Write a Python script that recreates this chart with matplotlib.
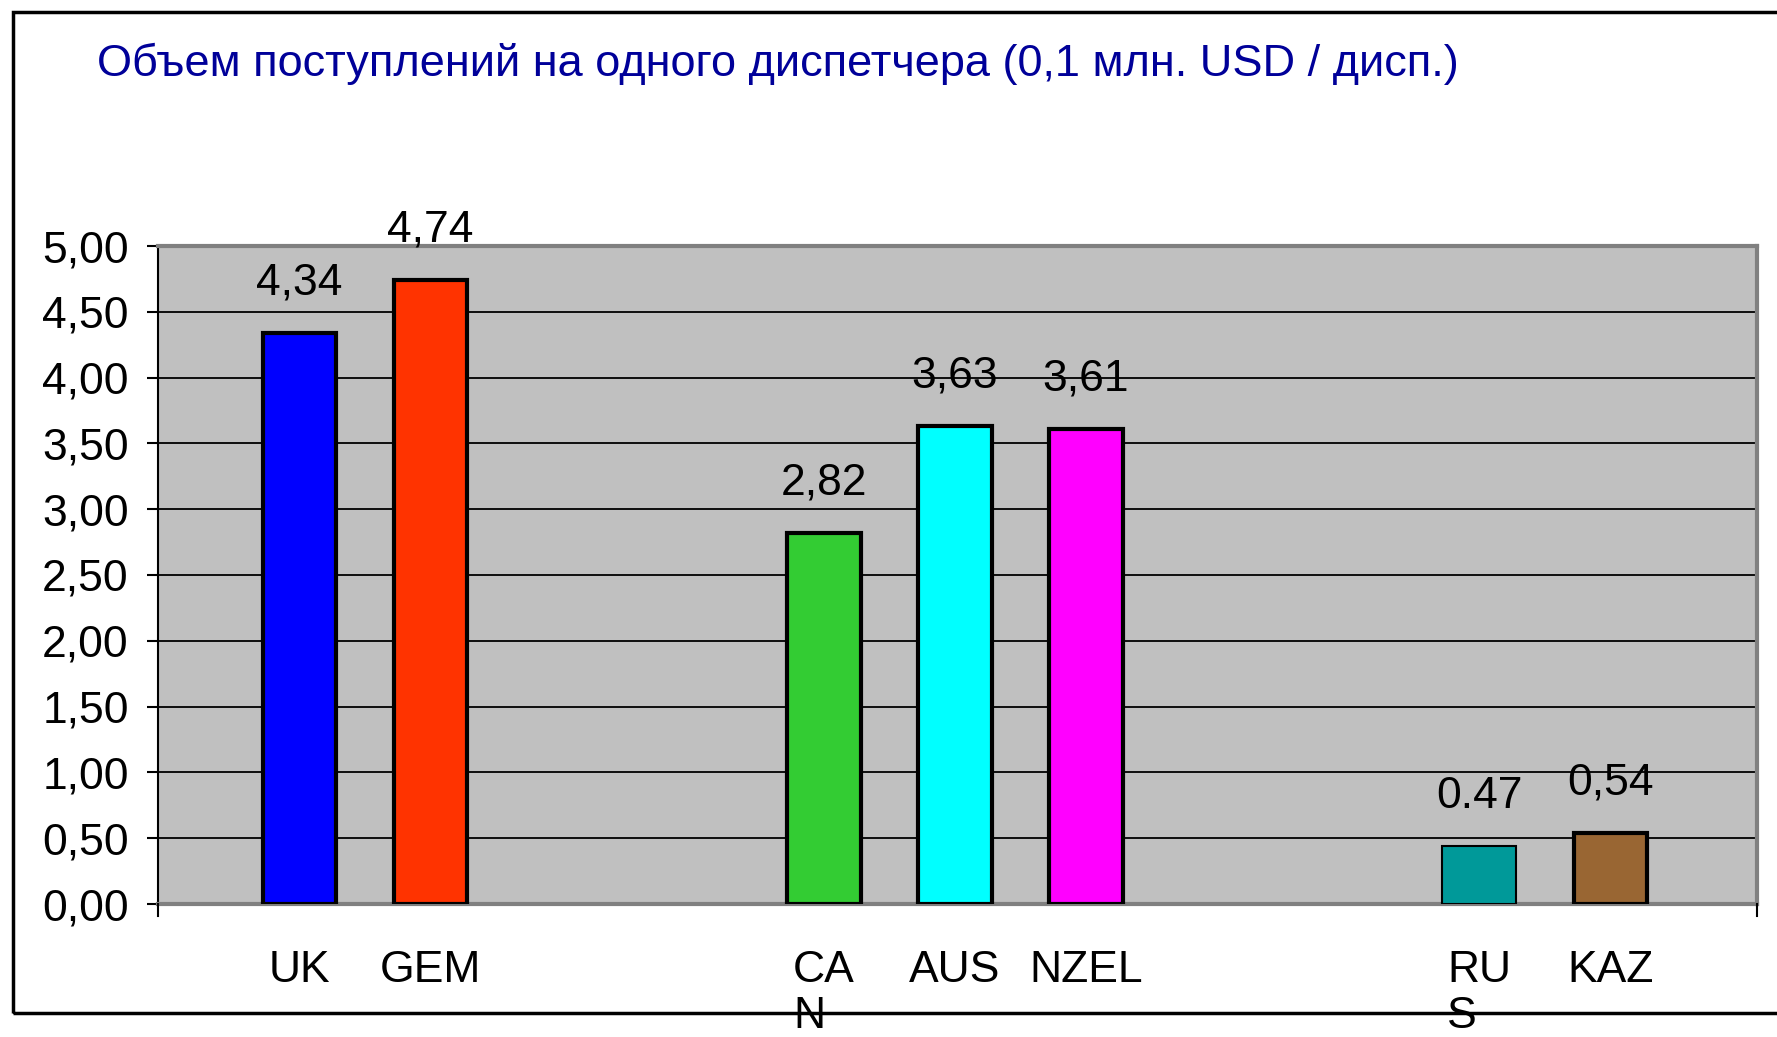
import matplotlib.pyplot as plt
import matplotlib.patches as mpatches
import matplotlib.lines as mlines
import numpy as np

plt.rcParams['font.family'] = ['Liberation Sans', 'DejaVu Sans']

# data
countries = ['UK', 'GEM', 'CA\nN', 'AUS', 'NZEL', 'RU\nS', 'KAZ']
slots = [0, 1, 4, 5, 6, 9, 10]          # empty slots between the groups
values = [4.34, 4.74, 2.82, 3.63, 3.61, 0.44, 0.54]
value_labels = ['4,34', '4,74', '2,82', '3,63', '3,61', '0.47', '0,54']
colors = ['#0000FF', '#FF3300', '#33CC33', '#00FFFF', '#FF00FF', '#009999', '#996633']
edge_widths = [3, 3, 3, 3, 3, 1.5, 3]
yticks = np.arange(0, 5.01, 0.5)
ytick_labels = ['0,00', '0,50', '1,00', '1,50', '2,00', '2,50', '3,00', '3,50', '4,00', '4,50', '5,00']

W, H = 1777, 1037
fig = plt.figure(figsize=(W / 100, H / 100), dpi=100)
ax = fig.add_axes([158 / W, 1 - 904 / H, (1757 - 158) / W, (904 - 246) / H])
ax.set_facecolor('#C0C0C0')

ax.bar(slots, values, width=0.56, color=colors, edgecolor='black',
       linewidth=edge_widths, zorder=3)

for x, v, lab in zip(slots, values, value_labels):
    ax.annotate(lab, (x, v), xytext=(0, 36), textcoords='offset points',
                ha='center', va='center', fontsize=32, color='black')

ax.set_xlim(-1.08, 11.12)
ax.set_ylim(0, 5)
ax.set_yticks(yticks)
ax.set_yticklabels(ytick_labels, fontsize=32)
ax.yaxis.grid(True, color='black', linewidth=1.3, zorder=1)
ax.set_axisbelow(True)

ax.set_xticks(slots)
ax.set_xticklabels(countries, fontsize=32, multialignment='left', linespacing=1.15)
ax.tick_params(axis='x', length=0, pad=33)
ax.tick_params(axis='y', direction='out', length=8, width=1.5, pad=13)

for side in ['top', 'right', 'bottom']:
    ax.spines[side].set_color('#808080')
    ax.spines[side].set_linewidth(3)
ax.spines['left'].set_color('black')
ax.spines['left'].set_linewidth(1.5)

# small tick marks under the plot ends
for xf in [158 / W, 1757 / W]:
    fig.add_artist(mlines.Line2D([xf, xf], [1 - 904 / H, 1 - 916 / H], color='black', linewidth=1.5))

fig.text(97 / W, 1 - 64 / H, 'Объем поступлений на одного диспетчера (0,1 млн. USD / дисп.)',
         fontsize=32.5, color='#000099', ha='left', va='center')

# outer frame (open on the right side, cut by the image edge)
frame = mpatches.Rectangle((13 / W, 1 - 1013 / H), 1.1, (1013 - 12) / H,
                           transform=fig.transFigure, fill=False,
                           edgecolor='black', linewidth=2.5, zorder=10, clip_on=False)
fig.add_artist(frame)

plt.savefig('out.png', dpi=100)
